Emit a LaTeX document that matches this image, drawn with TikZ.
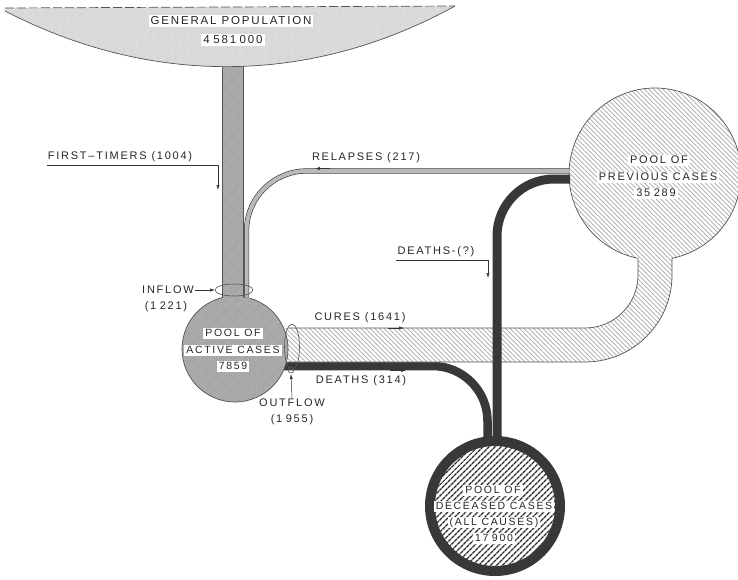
\documentclass[tikz,border=0pt]{standalone}
\usepackage{fontspec}
\setmainfont{Liberation Sans}[LetterSpace=16]
\usetikzlibrary{patterns.meta,arrows.meta}
\definecolor{darkband}{gray}{0.22}
\definecolor{edgec}{gray}{0.33}
\newcommand{\dgap}{\hspace{3.5pt}}
\tikzset{
  lbl/.style={font=\fontsize{11}{12}\selectfont, inner sep=1pt, text=black!85},
  boxlbl/.style={lbl, fill=white, inner xsep=2pt, inner ysep=1pt, text height=8pt, text depth=1pt},
  darkbandline/.style={draw=darkband, line width=9pt},
  edgeline/.style={draw=edgec, line width=0.7pt},
  tipl/.style={-{Latex[length=5pt,width=3.2pt]}, draw=black!80, line width=0.5pt},
  prevfill/.style={preaction={fill=white}, pattern={Lines[angle=-45,distance=3.3pt,line width=0.7pt]}, pattern color=gray!70},
  actfill/.style={preaction={fill=gray!58}, pattern={Lines[angle=45,distance=1.8pt,line width=0.5pt]}, pattern color=gray!85},
  genfill/.style={preaction={fill=gray!22}, pattern={Lines[angle=45,distance=1.6pt,line width=0.35pt]}, pattern color=gray!45},
  deadfill/.style={preaction={fill=white}, pattern={Lines[angle=45,distance=4pt,line width=1.5pt]}, pattern color=gray!35!black},
}
\begin{document}
\begin{tikzpicture}[x=1pt,y=-1pt]
\useasboundingbox (0,0) rectangle (738,579);

% deaths (314) band
\draw[darkbandline, line width=8.5pt, rounded corners=55] (280,366) -- (487.5,366) -- (487.5,445);

% pool of previous cases and cures band
\fill[prevfill] (655,174) circle[radius=86];
\fill[prevfill] (270,328) -- (585,328) arc[start angle=90,end angle=0,radius=53] -- (638,230) -- (672,230) -- (672,275) arc[start angle=0,end angle=90,radius=87] -- (270,362) -- cycle;
\draw[edgeline] (288,328) -- (585,328) arc[start angle=90,end angle=0,radius=53] -- (638,258.3);
\draw[edgeline] (288,362) -- (585,362) arc[start angle=90,end angle=0,radius=87] -- (672,258.3);
\draw[edgeline] (655,174) ++(101.4:86) arc[start angle=101.4,end angle=438.6,radius=86];

% deaths (?) band
\draw[darkbandline, rounded corners=57] (570,179) -- (497,179) -- (497,445);

% pool of deceased cases
\draw[deadfill, draw=darkband, line width=10pt] (495,506) circle[radius=65];

% pool of active cases and stem
\fill[actfill] (235,349) circle[radius=53];
\fill[actfill] (222,55) rectangle (243,310);
\draw[edgeline] (235,349) ++(286.4:53) arc[start angle=286.4,end angle=615.8,radius=53];
\draw[edgeline] (222,60) -- (222,297.6);
\draw[edgeline] (243,60) -- (243,297);

% relapses band
\draw[draw=gray!40!black, line width=0.6pt, double=gray!55, double distance=4pt, rounded corners=60] (569,171) -- (246.5,171) -- (246.5,297.5);

% general population
\path[genfill] (5,8) -- (455,6) .. controls (310,86) and (150,86) .. (5,11) -- cycle;
\draw[edgeline] (455,6) .. controls (310,86) and (150,86) .. (5,11);
\draw[edgeline, dash pattern=on 9pt off 3pt] (5,8) -- (455,6);

% inflow / outflow marks
\draw[edgeline, line width=0.6pt] (234,290) ellipse[x radius=19, y radius=6];
\draw[edgeline, line width=0.6pt] (292,347) ellipse[x radius=7.5, y radius=23];
\draw[edgeline, line width=0.6pt] (291,370) circle[radius=3];

% texts on shapes
\node[boxlbl, font=\fontsize{11.5}{12}\selectfont, text height=8.5pt] (gp1) at (231,21) {GENERAL POPULATION};
\node[boxlbl, font=\fontsize{11.5}{12}\selectfont, text height=8.5pt] (gp2) at (233,40) {4\dgap 581\dgap 000};
\node[boxlbl, font=\fontsize{10.5}{11}\selectfont] (ac1) at (233,333) {POOL OF};
\node[boxlbl, font=\fontsize{10.5}{11}\selectfont] (ac2) at (233,350) {ACTIVE CASES};
\node[boxlbl, font=\fontsize{10.5}{11}\selectfont] (ac3) at (233,366) {7859};
\node[boxlbl] (pc1) at (659,160) {POOL OF};
\node[boxlbl] (pc2) at (658,177) {PREVIOUS CASES};
\node[boxlbl] (pc3) at (656,193) {35\dgap 289};
\node[boxlbl, font=\fontsize{10.5}{11}\selectfont] (dc1) at (493,490) {POOL OF};
\node[boxlbl, font=\fontsize{10.5}{11}\selectfont] (dc2) at (494,506) {DECEASED CASES};
\node[boxlbl, font=\fontsize{10.5}{11}\selectfont] (dc3) at (494,522) {(ALL CAUSES)};
\node[boxlbl, font=\fontsize{10.5}{11}\selectfont] (dc4) at (494,538) {17\dgap 900};

% annotations
\node[lbl] (ft) at (120,157) {FIRST–TIMERS (1004)};
\coordinate (ftend) at (218,190);
\draw[tipl] ([yshift=-2pt]ft.south west) -| (ftend);

\node[lbl] (rl) at (366,158) {RELAPSES (217)};
\coordinate (rlt1) at (330,168.5);
\coordinate (rlt2) at (315,168.5);
\draw[tipl] (rlt1) -- (rlt2);

\node[lbl] (dq) at (436,252) {DEATHS-(?)};
\coordinate (dqend) at (488,278);
\draw[tipl] ([yshift=-2pt]dq.south west) -| (dqend);

\node[lbl] (cu) at (360,318) {CURES (1641)};
\coordinate (cut1) at (388,328);
\coordinate (cut2) at (404,328);
\draw[tipl] (cut1) -- (cut2);

\node[lbl] (d314) at (361,381) {DEATHS (314)};
\coordinate (dt1) at (390,370.5);
\coordinate (dt2) at (406,370.5);
\draw[tipl] (dt1) -- (dt2);

\node[lbl] (inf) at (168,290) {INFLOW};
\node[lbl] (inf2) at (166,307) {(1\dgap 221)};
\coordinate (infend) at (215,290);
\draw[tipl] (inf.east) -- (infend);

\node[lbl] (of) at (292,403) {OUTFLOW};
\node[lbl] (of2) at (292,420) {(1\dgap 955)};
\coordinate (ofend) at (291,374);
\draw[tipl] (of.north) -- (ofend);
\end{tikzpicture}
\end{document}
